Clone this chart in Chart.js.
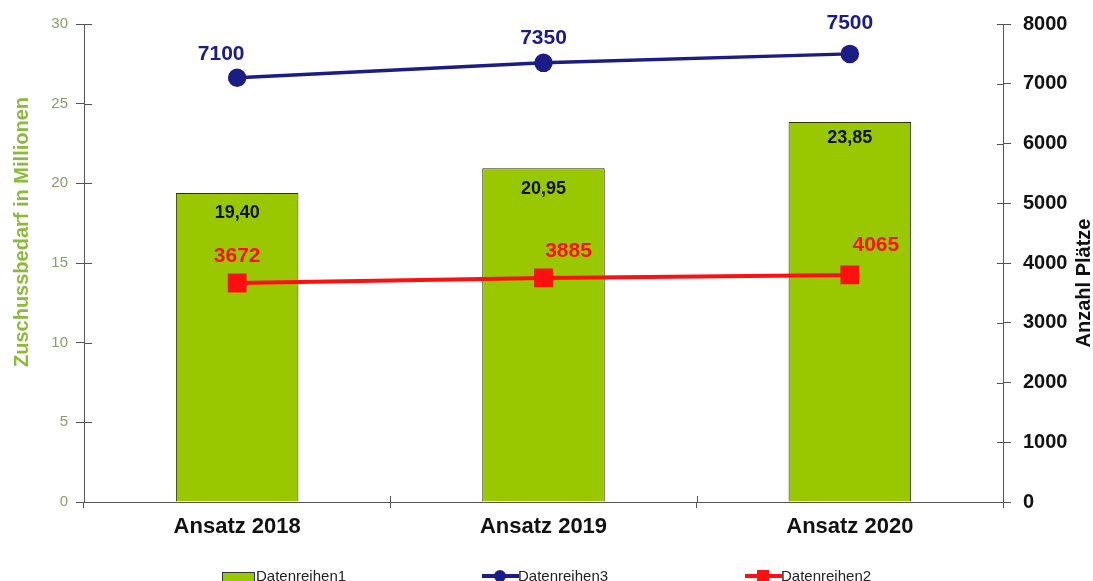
<!DOCTYPE html>
<html>
<head>
  <title>Zuschussbedarf und Anzahl Plätze</title>
  <script src="https://cdn.jsdelivr.net/npm/chart.js"></script>
  <style>
    body { margin: 0; background: #fff; }
    .wrap { width: 1093px; height: 581px; position: relative; }
  </style>
</head>
<body>
  <div class="wrap"><canvas id="chart"></canvas></div>

  <script>
    const categories = ['Ansatz 2018', 'Ansatz 2019', 'Ansatz 2020'];
    const zuschuss = [19.40, 20.95, 23.85];          // Datenreihen1 (Mio)
    const plaetze3 = [7100, 7350, 7500];             // Datenreihen3
    const plaetze2 = [3665, 3750, 3800];             // Datenreihen2, as plotted
    const plaetze2Labels = ['3672', '3885', '4065']; // Datenreihen2, as printed
    const leftTicks = [0, 5, 10, 15, 20, 25, 30];
    const rightTicks = [0, 1000, 2000, 3000, 4000, 5000, 6000, 7000, 8000];

    const FONT = "'Liberation Sans', Arial, sans-serif";
    const GREEN = '#99c800';
    const NAVY = '#1c1c86';
    const RED = '#ff1010';
    const AXIS = '#555';

    // label offsets from the point / bar top, per dataset
    const offsets = {
      0: [[0, 20], [0, 21], [0, 16]],
      1: [[-16, -24], [0, -25], [0, -31]],
      2: [[0, -27], [25, -27], [26, -30]]
    };

    const labelsPlugin = {
      id: 'labels',
      afterDatasetsDraw(chart) {
        const ctx = chart.ctx;
        ctx.save();
        ctx.textAlign = 'center';
        ctx.textBaseline = 'middle';
        chart.data.datasets.forEach((ds, i) => {
          chart.getDatasetMeta(i).data.forEach((el, j) => {
            const [dx, dy] = offsets[i][j];
            let txt, color, size;
            if (i === 0) { txt = ds.data[j].toFixed(2).replace('.', ','); color = '#111'; size = 18; }
            else if (i === 1) { txt = String(ds.data[j]); color = NAVY; size = 21; }
            else { txt = plaetze2Labels[j]; color = RED; size = 21; }
            ctx.font = `bold ${size}px ${FONT}`;
            ctx.fillStyle = color;
            ctx.fillText(txt, el.x + dx, el.y + dy);
          });
        });
        ctx.restore();
      }
    };

    // ticks crossing the axis lines, axis titles and the spread-out legend
    const extrasPlugin = {
      id: 'extras',
      afterDraw(chart) {
        const ctx = chart.ctx;
        const a = chart.chartArea;
        ctx.save();
        ctx.strokeStyle = AXIS;
        ctx.lineWidth = 1;
        ctx.beginPath();
        chart.scales.y.ticks.forEach(t => {
          const y = Math.round(chart.scales.y.getPixelForValue(t.value)) + 0.5;
          ctx.moveTo(a.left, y); ctx.lineTo(a.left + 8, y);
        });
        chart.scales.y2.ticks.forEach(t => {
          const y = Math.round(chart.scales.y2.getPixelForValue(t.value)) + 0.5;
          ctx.moveTo(a.right - 6, y); ctx.lineTo(a.right, y);
        });
        const xs = chart.scales.x;
        for (let k = 1; k < categories.length; k++) {
          const x = Math.round((xs.getPixelForValue(k - 1) + xs.getPixelForValue(k)) / 2) + 0.5;
          ctx.moveTo(x, a.bottom - 6); ctx.lineTo(x, a.bottom);
        }
        ctx.stroke();

        // axis titles
        ctx.textAlign = 'center';
        ctx.textBaseline = 'middle';
        ctx.font = `bold 20px ${FONT}`;
        ctx.fillStyle = '#8dba3c';
        ctx.translate(22, 232);
        ctx.rotate(-Math.PI / 2);
        ctx.fillText('Zuschussbedarf in Millionen', 0, 0);
        ctx.setTransform(1, 0, 0, 1, 0, 0);
        ctx.fillStyle = '#111';
        ctx.font = `bold 20px ${FONT}`;
        ctx.translate(1084, 283);
        ctx.rotate(-Math.PI / 2);
        ctx.fillText('Anzahl Plätze', 0, 0);
        ctx.setTransform(1, 0, 0, 1, 0, 0);

        // legend
        const ly = 576;
        const items = [
          { x: 220, ds: 0 },
          { x: 482, ds: 1 },
          { x: 745, ds: 2 }
        ];
        ctx.textAlign = 'left';
        ctx.font = `15px ${FONT}`;
        items.forEach(it => {
          const ds = chart.data.datasets[it.ds];
          if (it.ds === 0) {
            ctx.fillStyle = GREEN;
            ctx.fillRect(it.x + 2, ly - 4, 32, 9);
            ctx.strokeStyle = '#333';
            ctx.strokeRect(it.x + 2.5, ly - 3.5, 32, 9);
          } else {
            ctx.strokeStyle = ds.borderColor;
            ctx.lineWidth = 4;
            ctx.beginPath();
            ctx.moveTo(it.x, ly); ctx.lineTo(it.x + 37, ly);
            ctx.stroke();
            ctx.fillStyle = ds.borderColor;
            if (it.ds === 1) {
              ctx.beginPath();
              ctx.arc(it.x + 18, ly, 6, 0, Math.PI * 2);
              ctx.fill();
            } else {
              ctx.fillRect(it.x + 12, ly - 6, 12, 12);
            }
          }
          ctx.fillStyle = '#222';
          ctx.fillText(ds.label, it.x + 36, ly + 1);
        });
        ctx.restore();
      }
    };

    new Chart(document.getElementById('chart'), {
      data: {
        labels: categories,
        datasets: [
          {
            type: 'bar',
            label: 'Datenreihen1',
            data: zuschuss,
            yAxisID: 'y',
            backgroundColor: GREEN,
            borderColor: '#2e3300',
            borderWidth: 1,
            barPercentage: 0.4,
            categoryPercentage: 1,
            order: 3
          },
          {
            type: 'line',
            label: 'Datenreihen3',
            data: plaetze3,
            yAxisID: 'y2',
            borderColor: NAVY,
            backgroundColor: NAVY,
            borderWidth: 3.5,
            pointStyle: 'circle',
            pointRadius: 7.5,
            tension: 0,
            order: 1
          },
          {
            type: 'line',
            label: 'Datenreihen2',
            data: plaetze2,
            yAxisID: 'y2',
            borderColor: RED,
            backgroundColor: RED,
            borderWidth: 4,
            pointStyle: 'rect',
            pointRadius: 10.5,
            tension: 0,
            order: 2
          }
        ]
      },
      options: {
        responsive: true,
        maintainAspectRatio: false,
        animation: false,
        layout: { padding: { top: 24, left: 0, right: 0, bottom: 0 } },
        plugins: {
          legend: { display: false },
          tooltip: { enabled: false }
        },
        scales: {
          x: {
            offset: true,
            grid: { display: true, drawOnChartArea: false, offset: true, color: AXIS, tickLength: 6 },
            border: { color: AXIS },
            ticks: { color: '#111', font: { family: FONT, size: 22, weight: 'bold' }, padding: 6 },
            afterFit: s => { s.height = 79; }
          },
          y: {
            position: 'left',
            min: leftTicks[0],
            max: leftTicks[leftTicks.length - 1],
            grid: { drawOnChartArea: false, color: AXIS, tickLength: 8 },
            border: { color: AXIS },
            ticks: { stepSize: leftTicks[1] - leftTicks[0], color: '#8a9c66', font: { family: FONT, size: 15 }, padding: 8 },
            afterFit: s => { s.width = 84; }
          },
          y2: {
            position: 'right',
            min: rightTicks[0],
            max: rightTicks[rightTicks.length - 1],
            grid: { drawOnChartArea: false, color: AXIS, tickLength: 8 },
            border: { color: AXIS },
            ticks: {
              stepSize: rightTicks[1] - rightTicks[0],
              callback: v => String(v),
              color: '#111',
              font: { family: FONT, size: 20, weight: 'bold' },
              padding: 12
            },
            afterFit: s => { s.width = 90; }
          }
        }
      },
      plugins: [labelsPlugin, extrasPlugin]
    });
  </script>
</body>
</html>
